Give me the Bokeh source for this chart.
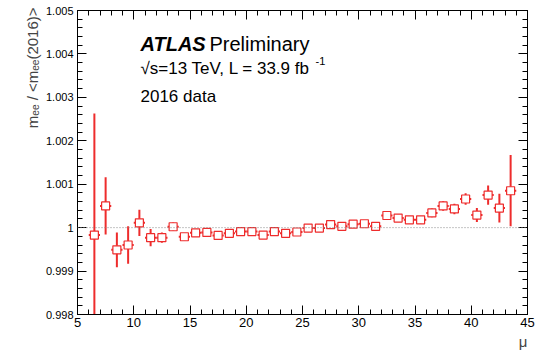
from bokeh.plotting import figure
from bokeh.models import (Range1d, FixedTicker, LinearAxis, Label, Span, Title,
                          CustomJSTickFormatter, ColumnDataSource)
from bokeh.embed import file_html
from bokeh.resources import INLINE

# ---------------- data ----------------
mu = [6.5 + i for i in range(38)]
ratio = [0.99983, 1.00050, 0.99949, 0.99960, 1.00011, 0.99977, 0.99977, 1.00002,
         0.99979, 0.99988, 0.99989, 0.99982, 0.99987, 0.99991, 0.99991, 0.99983,
         0.99991, 0.99987, 0.99990, 0.99999, 0.99999, 1.00007, 1.00003, 1.00008,
         1.00009, 1.00003, 1.00028, 1.00022, 1.00018, 1.00018, 1.00034, 1.00050,
         1.00043, 1.00066, 1.00029, 1.00075, 1.00045, 1.00085]
err = [0.00280, 0.00066, 0.00040, 0.00043, 0.00030, 0.00020, 0.00012, 0.00010,
       0.00008, 0.00007, 0.00006, 0.00006, 0.00006, 0.00005, 0.00005, 0.00005,
       0.00005, 0.00005, 0.00005, 0.00005, 0.00005, 0.00005, 0.00005, 0.00006,
       0.00006, 0.00006, 0.00007, 0.00007, 0.00008, 0.00009, 0.00010, 0.00011,
       0.00012, 0.00013, 0.00016, 0.00022, 0.00033, 0.00082]
bin_half = 0.5
x_major = [5, 10, 15, 20, 25, 30, 35, 40, 45]
y_major = [0.998, 0.999, 1.000, 1.001, 1.002, 1.003, 1.004, 1.005]
assert len(mu) == len(ratio) == len(err)

src = ColumnDataSource(dict(
    x=mu, y=ratio,
    x0=[m - bin_half for m in mu], x1=[m + bin_half for m in mu],
    ylo=[r - e for r, e in zip(ratio, err)], yhi=[r + e for r, e in zip(ratio, err)],
))

XMIN, XMAX, YMIN, YMAX = 5, 45, 0.998, 1.005
W, H = 544, 353
L, R, T, B = 77, 17, 10, 39
FW, FH = W - L - R, H - T - B


def xd(px):
    return XMIN + (px - L) / FW * (XMAX - XMIN)


def yd(py):
    return YMIN + (T + FH - py) / FH * (YMAX - YMIN)


p = figure(width=W, height=H, output_backend="svg", toolbar_location=None,
           x_range=Range1d(XMIN, XMAX), y_range=Range1d(YMIN, YMAX),
           min_border_left=L, min_border_right=R, min_border_top=T,
           min_border_bottom=B, x_axis_location=None, y_axis_location=None)
p.xgrid.visible = False
p.ygrid.visible = False
p.outline_line_color = "black"
p.outline_line_width = 1
p.background_fill_color = "white"
p.border_fill_color = "white"

FONT = "Liberation Sans"
xt = FixedTicker(ticks=x_major, minor_ticks=list(range(5, 46)))
yt = FixedTicker(ticks=y_major,
                 minor_ticks=[round(0.998 + 0.0002 * i, 4) for i in range(36)])


def style(ax, show):
    ax.axis_line_color = "black"
    ax.major_tick_out = 0
    ax.minor_tick_out = 0
    ax.major_tick_in = 9
    ax.minor_tick_in = 5
    ax.major_tick_line_color = "black"
    ax.minor_tick_line_color = "black"
    ax.major_label_text_font = FONT
    ax.major_label_text_color = "black"
    if not show:
        ax.major_label_text_font_size = "0px"
        ax.formatter = CustomJSTickFormatter(code="return '';")
        ax.major_label_standoff = 0


bx = LinearAxis(ticker=xt, formatter=CustomJSTickFormatter(code="return tick.toFixed(0);"))
style(bx, True)
bx.major_label_text_font_size = "13px"
bx.major_label_standoff = 3
p.add_layout(bx, "below")

tx = LinearAxis(ticker=xt)
style(tx, False)
p.add_layout(tx, "above")

ly = LinearAxis(ticker=yt, formatter=CustomJSTickFormatter(
    code="return tick.toFixed(3).replace(/\\.?0+$/, '');"))
style(ly, True)
ly.major_label_text_font_size = "11px"
ly.major_label_standoff = 4
p.add_layout(ly, "left")

ry = LinearAxis(ticker=yt)
style(ry, False)
p.add_layout(ry, "right")

YTITLE = "m\u2091\u2091 / <m\u2091\u2091(2016)>"
p.add_layout(Title(text=YTITLE, align="right", text_font=FONT,
                   text_font_size="15px", text_font_style="normal",
                   standoff=4, offset=-3), "left")

p.add_layout(Title(text="\u03bc", align="right", text_font=FONT,
                   text_font_size="15px", text_font_style="normal",
                   standoff=2), "below")

# reference line at 1
p.add_layout(Span(location=1.0, dimension="width", line_color="#888888",
                  line_dash="1 2", line_width=1))

RED = "#ee2c2c"
p.segment(x0="x", x1="x", y0="ylo", y1="yhi", source=src, line_color=RED, line_width=2)
p.segment(x0="x0", x1="x1", y0="y", y1="y", source=src, line_color=RED, line_width=2)
p.scatter(x="x", y="y", source=src, marker="square", size=8,
          fill_color="white", line_color=RED, line_width=1.2)


def lab(text, px, py, size, style="normal", align="left"):
    p.add_layout(Label(x=xd(px), y=yd(py), text=text, text_font=FONT,
                       text_font_size=f"{size}px", text_font_style=style,
                       text_baseline="alphabetic", text_align=align,
                       text_color="black"))


# in-plot texts
lab("ATLAS", 140, 43, 20, "bold italic")
lab("Preliminary", 209, 43, 20)
lab("\u221as=13 TeV, L = 33.9 fb", 140, 68, 17)
lab("-1", 315, 60, 11)
lab("2016 data", 140, 96, 17)

open("out.html", "w").write(file_html(p, INLINE))
